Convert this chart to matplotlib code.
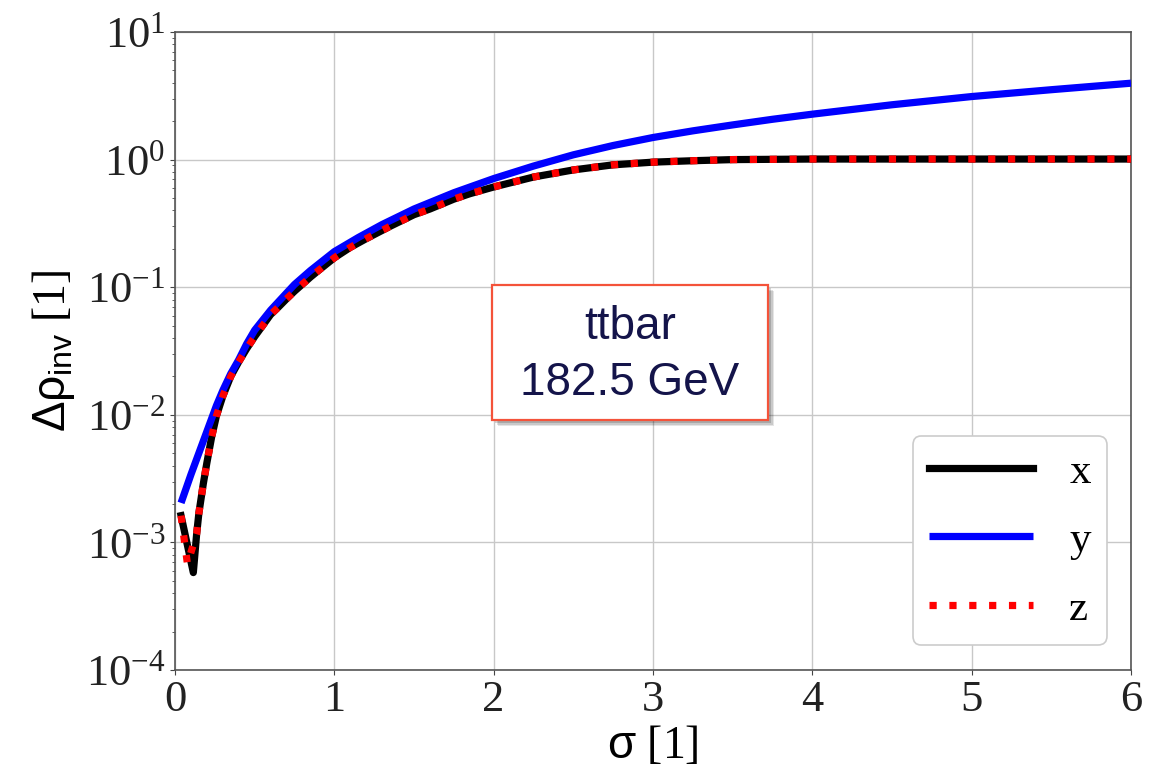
import matplotlib
matplotlib.use("Agg")
import matplotlib.pyplot as plt
from matplotlib.patches import Rectangle

# ---------------- data ----------------
sigma_x = [0.038, 0.115, 0.136, 0.15, 0.178, 0.2, 0.23, 0.26, 0.3, 0.35,
           0.4, 0.45, 0.5, 0.55, 0.6, 0.65, 0.7, 0.75, 0.85, 0.9, 1.0, 1.1,
           1.2, 1.35, 1.5, 1.6, 1.75, 1.85, 2.0, 2.25, 2.5, 2.75, 3.0, 3.25,
           3.5, 3.75, 4.0, 4.5, 5.0, 6.0]
drho_x = [1.62e-3, 5.8e-4, 1.17e-3, 1.7e-3, 2.9e-3, 4.2e-3, 6.7e-3, 9.8e-3,
          0.0140, 0.020, 0.026, 0.033, 0.041, 0.050, 0.061, 0.070, 0.081,
          0.093, 0.12, 0.135, 0.17, 0.205, 0.24, 0.30, 0.37, 0.41, 0.49,
          0.54, 0.61, 0.73, 0.83, 0.91, 0.955, 0.98, 1.0, 1.005, 1.01, 1.01,
          1.01, 1.01]

sigma_y = [0.038, 0.1, 0.157, 0.2, 0.26, 0.3, 0.35, 0.4, 0.45, 0.5, 0.6,
           0.7, 0.75, 0.85, 1.0, 1.15, 1.3, 1.5, 1.75, 2.0, 2.25, 2.5, 2.75,
           3.0, 3.25, 3.5, 3.75, 4.0, 4.5, 5.0, 5.5, 6.0]
drho_y = [2.04e-3, 3.4e-3, 5.3e-3, 7.4e-3, 0.0118, 0.0155, 0.021, 0.027,
          0.036, 0.046, 0.066, 0.090, 0.105, 0.135, 0.19, 0.245, 0.31, 0.41,
          0.55, 0.71, 0.89, 1.09, 1.29, 1.49, 1.68, 1.87, 2.07, 2.27, 2.69,
          3.12, 3.53, 3.97]

sigma_z = [0.038, 0.078, 0.136, 0.15, 0.178, 0.2, 0.23, 0.26, 0.3, 0.35,
           0.4, 0.45, 0.5, 0.55, 0.6, 0.65, 0.7, 0.75, 0.85, 0.9, 1.0, 1.1,
           1.2, 1.35, 1.5, 1.6, 1.75, 1.85, 2.0, 2.25, 2.5, 2.75, 3.0, 3.25,
           3.5, 3.75, 4.0, 4.5, 5.0, 6.0]
drho_z = [1.62e-3, 6.8e-4, 1.17e-3, 1.7e-3, 2.9e-3, 4.2e-3, 6.7e-3, 9.8e-3,
          0.0140, 0.020, 0.026, 0.033, 0.041, 0.050, 0.061, 0.070, 0.081,
          0.093, 0.12, 0.135, 0.17, 0.205, 0.24, 0.30, 0.37, 0.41, 0.49,
          0.54, 0.61, 0.73, 0.83, 0.91, 0.955, 0.98, 1.0, 1.005, 1.01, 1.01,
          1.01, 1.01]

series_labels = ["x", "y", "z"]
x_ticks = [0, 1, 2, 3, 4, 5, 6]
annot_lines = ["ttbar", "182.5 GeV"]

# ---------------- style ----------------
plt.rcParams["font.family"] = ["Liberation Serif", "DejaVu Serif"]
plt.rcParams["mathtext.fontset"] = "custom"
plt.rcParams["mathtext.rm"] = "Liberation Sans"
plt.rcParams["mathtext.it"] = "Liberation Sans"
plt.rcParams["mathtext.sf"] = "Liberation Sans"
plt.rcParams["mathtext.bf"] = "Liberation Sans:bold"

W, H = 1165, 778
fig = plt.figure(figsize=(W / 100, H / 100), dpi=100)
ax = fig.add_axes([175 / W, 1 - 670 / H, (1131 - 175) / W, (670 - 32) / H])

lw = 5.2
ax.plot(sigma_x, drho_x, color="black", lw=lw, label=series_labels[0],
        solid_joinstyle="round", zorder=3)
ax.plot(sigma_y, drho_y, color="#0000ff", lw=lw, label=series_labels[1],
        solid_capstyle="butt", solid_joinstyle="round", zorder=4)
ax.plot(sigma_z, drho_z, color="#ff0000", lw=lw, label=series_labels[2],
        linestyle=(0, (1.0, 1.75)), dash_capstyle="butt", zorder=5)

ax.set_yscale("log")
ax.set_xlim(0, 6)
ax.set_ylim(1e-4, 1e1)
ax.set_xticks(x_ticks)
ax.grid(True, which="major", color="#c8c8c8", lw=1.0)
ax.set_axisbelow(True)
ax.tick_params(labelsize=32, colors="#222222")
ax.tick_params(axis="both", which="both", color="#444444")
for s in ax.spines.values():
    s.set_color("#555555")
    s.set_linewidth(1.2)

ax.set_xlabel(r"$\sigma$ [1]", fontsize=33, labelpad=4)
ax.set_ylabel(r"$\Delta\rho_{\mathrm{inv}}$ [1]", fontsize=33, labelpad=6)

leg = ax.legend(loc="lower right", bbox_to_anchor=(1107 / W, 1 - 645 / H),
                bbox_transform=fig.transFigure, borderaxespad=0,
                fontsize=31, handlelength=2.4, handletextpad=0.85,
                labelspacing=0.68, borderpad=0.38, fancybox=True,
                framealpha=1.0, edgecolor="#cccccc")
leg.get_frame().set_linewidth(1.2)

# annotation box (with soft shadow)
bx0, by0, bw, bh = 492, 420, 276, 135   # pixel coords (top-left origin for y)
for i, a in enumerate([0.10, 0.12, 0.16]):
    off = 6 - i * 1.5
    sh = Rectangle(((bx0 + off) / W, 1 - (by0 + off) / H), bw / W, bh / H,
                   transform=fig.transFigure, facecolor="#000000", alpha=a,
                   edgecolor="none", zorder=8)
    fig.add_artist(sh)
box = Rectangle((bx0 / W, 1 - by0 / H), bw / W, bh / H,
                transform=fig.transFigure, facecolor="white",
                edgecolor="#f4533a", lw=1.6, zorder=9)
fig.add_artist(box)
fig.text(630 / W, 1 - 327 / H, annot_lines[0], ha="center", va="center",
         fontsize=33, color="#14144a", family="Liberation Sans", zorder=10)
fig.text(630 / W, 1 - 383 / H, annot_lines[1], ha="center", va="center",
         fontsize=33, color="#14144a", family="Liberation Sans", zorder=10)

fig.savefig("out.png", dpi=100)
